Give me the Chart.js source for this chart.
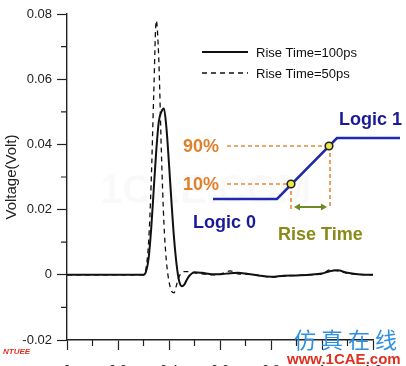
<!DOCTYPE html>
<html>
<head>
<meta charset="utf-8">
<script src="https://cdn.jsdelivr.net/npm/chart.js@4.4.0/dist/chart.umd.min.js"></script>
<style>
  body { margin: 0; overflow: hidden; background: #fff; }
  #wrap { width: 406px; height: 366px; overflow: hidden; }
</style>
</head>
<body>
<div id="wrap"><canvas id="myChart" width="406" height="380"></canvas></div>
<script>
//data (time in ns)
var timeValues = [0, 0.30, 0.31, 0.32, 0.33, 0.34, 0.35, 0.36, 0.37, 0.38, 0.39, 0.40, 0.41, 0.42, 0.43, 0.44, 0.45, 0.46, 0.47, 0.48, 0.50, 0.53, 0.57, 0.60, 0.64, 0.67, 0.70, 0.75, 0.80, 0.85, 0.90, 0.95, 1.00, 1.03, 1.06, 1.10, 1.15, 1.20];
var rise100Values = [0, 0, 0.001, 0.005, 0.014, 0.026, 0.038, 0.047, 0.050, 0.051, 0.045, 0.034, 0.022, 0.011, 0.003, -0.002, -0.0035, -0.003, -0.0015, -0.0003, 0.0008, 0.0006, 0.0002, 0.0002, 0.0005, 0.0006, 0.0004, -0.0002, -0.0006, -0.0003, -0.0002, 0, 0.0004, 0.0011, 0.0014, 0.0006, 0.0001, 0];
var rise50Values = [0, 0, 0.002, 0.010, 0.028, 0.055, 0.078, 0.066, 0.038, 0.016, 0.004, -0.002, -0.005, -0.0055, -0.003, -0.0005, 0.0006, 0.001, 0.001, 0.0009, 0.0006, 0.0003, 0, 0.0002, 0.0012, 0.0003, 0.0002, -0.0001, -0.0007, -0.0004, -0.0002, 0, 0.0002, 0.0015, 0.0012, 0.0004, 0.0001, 0];
var seriesLabels = ["Rise Time=100ps", "Rise Time=50ps"];
var xTicks = [0, 0.2, 0.4, 0.6, 0.8, 1, 1.2];
var yTicks = [-0.02, 0, 0.02, 0.04, 0.06, 0.08];

function toPoints(ys) {
    var pts = [];
    for (var i = 0; i < timeValues.length; i++) {
        pts.push({ x: timeValues[i], y: ys[i] });
    }
    return pts;
}

var axisFont = { family: "'Liberation Sans', Arial, sans-serif", size: 13 };

//minor ticks, legend, inset sketch, watermarks
var extras = {
    id: "extras",
    afterDraw: function (chart) {
        var ctx = chart.ctx;
        var xs = chart.scales.x;
        var ys = chart.scales.y;
        var area = chart.chartArea;

        ctx.save();
        ctx.strokeStyle = "#222";
        ctx.lineWidth = 1.2;
        ctx.beginPath();
        for (var v = -0.01; v < 0.08; v += 0.02) {
            var py = ys.getPixelForValue(v);
            ctx.moveTo(area.left - 6, py);
            ctx.lineTo(area.left, py);
        }
        for (var u = 0.1; u < 1.2; u += 0.2) {
            var px = xs.getPixelForValue(u);
            ctx.moveTo(px, area.bottom);
            ctx.lineTo(px, area.bottom + 6);
        }
        ctx.stroke();

        // legend
        ctx.font = "13px 'Liberation Sans', Arial, sans-serif";
        ctx.fillStyle = "#111";
        ctx.textBaseline = "middle";
        chart.data.datasets.forEach(function (ds, i) {
            var ly = 52 + 21 * i;
            ctx.strokeStyle = "#111";
            ctx.lineWidth = ds.borderWidth;
            ctx.setLineDash(ds.borderDash || []);
            ctx.beginPath();
            ctx.moveTo(202, ly);
            ctx.lineTo(248, ly);
            ctx.stroke();
            ctx.setLineDash([]);
            ctx.fillText(ds.label, 256, ly + 1);
        });

        // faint watermark
        ctx.fillStyle = "rgba(0,0,0,0.025)";
        ctx.font = "bold 40px 'Liberation Sans', sans-serif";
        ctx.textBaseline = "alphabetic";
        ctx.fillText("1CAE.COM", 100, 203);

        // inset: rise time sketch
        ctx.strokeStyle = "#e8883a";
        ctx.lineWidth = 1.6;
        ctx.setLineDash([4, 3]);
        ctx.beginPath();
        ctx.moveTo(227, 146); ctx.lineTo(329, 146);
        ctx.moveTo(227, 184); ctx.lineTo(291, 184);
        ctx.moveTo(291, 184); ctx.lineTo(291, 209);
        ctx.moveTo(330, 146); ctx.lineTo(330, 207);
        ctx.stroke();
        ctx.setLineDash([]);

        ctx.strokeStyle = "#1e2aa8";
        ctx.lineWidth = 2.5;
        ctx.beginPath();
        ctx.moveTo(213, 199);
        ctx.lineTo(277, 199);
        ctx.lineTo(337, 138);
        ctx.lineTo(400, 138);
        ctx.stroke();

        ctx.strokeStyle = "#6e8a22";
        ctx.fillStyle = "#6e8a22";
        ctx.lineWidth = 2;
        ctx.beginPath();
        ctx.moveTo(297, 207); ctx.lineTo(324, 207);
        ctx.stroke();
        ctx.beginPath();
        ctx.moveTo(294, 207); ctx.lineTo(300, 203.5); ctx.lineTo(300, 210.5); ctx.closePath();
        ctx.moveTo(327, 207); ctx.lineTo(321, 203.5); ctx.lineTo(321, 210.5); ctx.closePath();
        ctx.fill();

        [[291, 184], [329, 146]].forEach(function (c) {
            ctx.beginPath();
            ctx.arc(c[0], c[1], 3.8, 0, Math.PI * 2);
            ctx.fillStyle = "#f2e84a";
            ctx.fill();
            ctx.lineWidth = 1.6;
            ctx.strokeStyle = "#222";
            ctx.stroke();
        });

        ctx.font = "bold 18px 'Liberation Sans', Arial, sans-serif";
        ctx.fillStyle = "#1a1a99";
        ctx.fillText("Logic 1", 339, 125);
        ctx.fillText("Logic 0", 193, 228);
        ctx.fillStyle = "#e0802e";
        ctx.fillText("90%", 183, 152);
        ctx.fillText("10%", 183, 190);
        ctx.fillStyle = "#8a8a1a";
        ctx.fillText("Rise Time", 278, 240);

        // site marks
        ctx.fillStyle = "#2f8fe0";
        ctx.font = "22px 'Noto Sans CJK SC', sans-serif";
        var cjk = "仿真在线";
        for (var k = 0; k < cjk.length; k++) {
            ctx.fillText(cjk[k], 294 + k * 27, 348);
        }
        ctx.fillStyle = "#e03020";
        ctx.font = "bold 15px 'Liberation Sans', Arial, sans-serif";
        ctx.fillText("www.1CAE.com", 287, 364);
        ctx.font = "italic bold 8px 'Liberation Sans', Arial, sans-serif";
        ctx.fillText("NTUEE", 3, 354);
        ctx.restore();
    }
};

new Chart("myChart", {
    type: "scatter",
    data: {
        datasets: [
            {
                label: seriesLabels[0],
                data: toPoints(rise100Values),
                showLine: true,
                borderColor: "#111",
                borderWidth: 2,
                pointRadius: 0,
                cubicInterpolationMode: "monotone",
            },
            {
                label: seriesLabels[1],
                data: toPoints(rise50Values),
                showLine: true,
                borderColor: "#111",
                borderWidth: 1.3,
                borderDash: [5, 4],
                pointRadius: 0,
                cubicInterpolationMode: "monotone",
            },
        ],
    },
    options: {
        responsive: false,
        animation: false,
        layout: { padding: { top: 14, right: 33, left: 0, bottom: 0 } },
        plugins: {
            legend: { display: false },
            tooltip: { enabled: false },
        },
        scales: {
            x: {
                type: "linear",
                min: 0,
                max: 1.2,
                afterFit: function (scale) { scale.height = 40; },
                afterBuildTicks: function (scale) {
                    scale.ticks = xTicks.map(function (v) { return { value: v }; });
                },
                grid: { drawOnChartArea: false, tickLength: 10, tickColor: "#222", tickWidth: 1.2 },
                border: { color: "#222", width: 1.4 },
                ticks: {
                    padding: 13,
                    color: "#222",
                    font: axisFont,
                    callback: function (v) { return String(Math.round(v * 10) / 10); },
                },
            },
            y: {
                min: -0.02,
                max: 0.08,
                afterFit: function (scale) { scale.width = 67; },
                afterBuildTicks: function (scale) {
                    scale.ticks = yTicks.map(function (v) { return { value: v }; });
                },
                grid: { drawOnChartArea: false, tickLength: 10, tickColor: "#222", tickWidth: 1.2 },
                border: { color: "#222", width: 1.4 },
                title: {
                    display: true,
                    text: "Voltage(Volt)",
                    color: "#222",
                    font: { family: axisFont.family, size: 15 },
                    padding: { top: 3, bottom: 0 },
                },
                ticks: {
                    padding: 5,
                    color: "#222",
                    font: axisFont,
                    callback: function (v) { return v === 0 ? "0" : v.toFixed(2); },
                },
            },
        },
    },
    plugins: [extras],
});
</script>
</body>
</html>
